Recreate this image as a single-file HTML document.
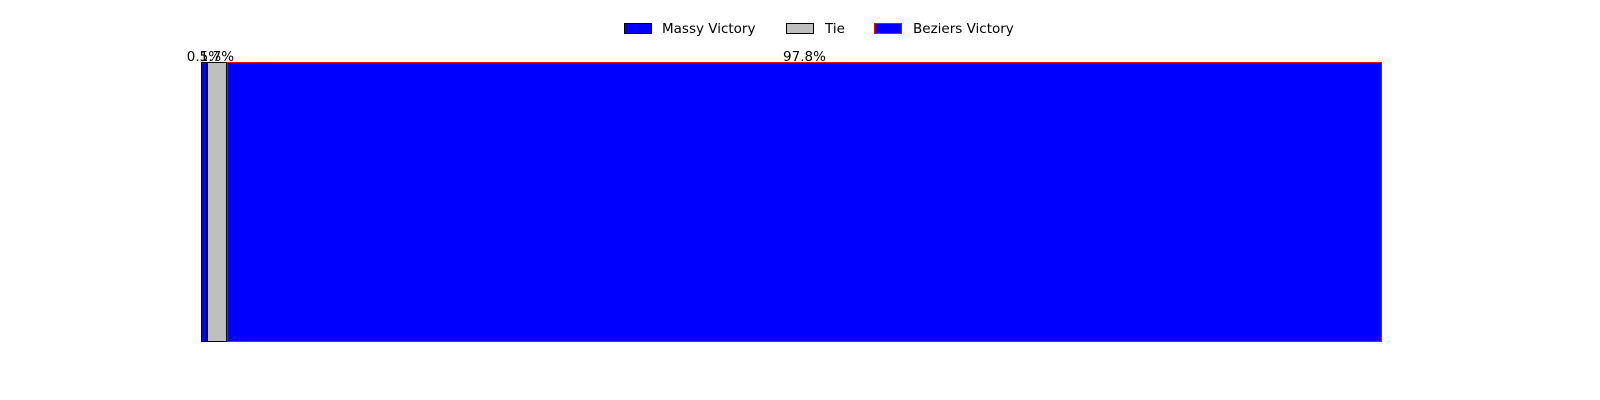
<!DOCTYPE html>
<html><head><meta charset="utf-8"><style>
html,body{margin:0;padding:0;background:#fff;width:1600px;height:400px;overflow:hidden}
svg{display:block}
text{font-family:"DejaVu Sans","Liberation Sans",sans-serif;font-size:13.5px;fill:#000}
</style></head><body>
<svg id="chart" width="1600" height="400" viewBox="0 0 1600 400" xmlns="http://www.w3.org/2000/svg">
<g>
<g><rect x="624.5" y="23.5" width="27" height="10" fill="#0000ff" stroke="#000" stroke-width="1"/><text x="662" y="33">Massy Victory</text></g>
<g><rect x="786.5" y="23.5" width="27" height="10" fill="#bfbfbf" stroke="#000" stroke-width="1"/><text x="825" y="33">Tie</text></g>
<g><rect x="874.5" y="23.5" width="27" height="10" fill="#0000ff" stroke="#ff0000" stroke-width="1"/><text x="913" y="33">Beziers Victory</text></g>
</g>
<g id="bars"></g>
</svg>
<script>
const categories = ["Massy Victory", "Tie", "Beziers Victory"];
const values = [0.5, 1.7, 97.8];
const labels = ["0.5%", "1.7%", "97.8%"];
const fills = ["#0000ff", "#bfbfbf", "#0000ff"];
const strokes = ["#000", "#000", "#ff0000"];
const x0 = 201, x1 = 1382, yTop = 62, yBot = 342;
const total = values.reduce((a, b) => a + b, 0);
function xScale(v) { return x0 + (x1 - x0) * v / total; }
const g = document.getElementById('bars');
const ns = 'http://www.w3.org/2000/svg';
let acc = 0;
values.forEach((v, i) => {
  const xa = xScale(acc), xb = xScale(acc + v);
  const r = document.createElementNS(ns, 'rect');
  r.setAttribute('x', xa + 0.5); r.setAttribute('y', yTop + 0.5);
  r.setAttribute('width', Math.max(xb - xa - 1, 0.5)); r.setAttribute('height', yBot - yTop - 1);
  r.setAttribute('fill', fills[i]); r.setAttribute('stroke', strokes[i]); r.setAttribute('stroke-width', '1');
  
  
  g.appendChild(r);
  const t = document.createElementNS(ns, 'text');
  t.setAttribute('x', (xa + xb) / 2); t.setAttribute('y', yTop - 1);
  t.setAttribute('text-anchor', 'middle');
  t.textContent = labels[i];
  
  
  g.appendChild(t);
  acc += v;
});
</script>
</body></html>
